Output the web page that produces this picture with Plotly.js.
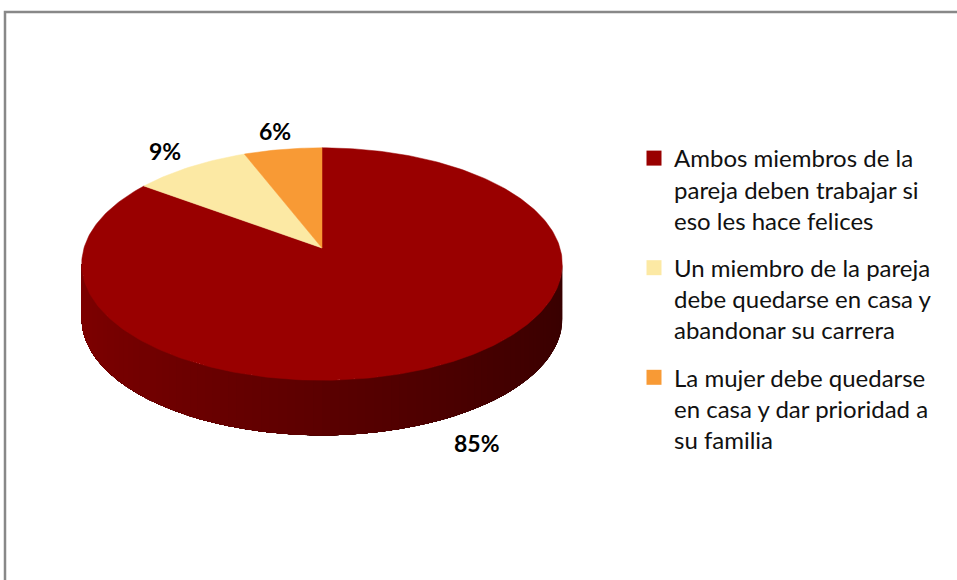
<!DOCTYPE html>
<html>
<head>
<meta charset="utf-8">
<script src="https://cdn.plot.ly/plotly-3.0.1.min.js"></script>
<style>html,body{margin:0;padding:0;background:#fff;}#chart{width:957px;height:580px;}</style>
</head>
<body>
<div id="chart"></div>
<script>
// ---- data ----
const categories = [
  "Ambos miembros de la<br>pareja deben trabajar si<br>eso les hace felices",
  "Un miembro de la pareja<br>debe quedarse en casa y<br>abandonar su carrera",
  "La mujer debe quedarse<br>en casa y dar prioridad a<br>su familia"
];
const values = [85, 9, 6];
const colors = ["#990000", "#FCE9A4", "#F89A35"];

// ---- 3D pie geometry (pixel space) ----
const CX = 322, CY = 248, A = 238, B = 114, K = -0.138, D = 55;
const deg = Math.PI / 180;
function proj(theta, r) {
  const c = Math.cos(theta) * r, sd = -Math.sin(theta) * r;
  const w = 1 + K * sd;
  return [CX + A * c / w, CY + B * sd / w];
}
const total = values.reduce((a, b) => a + b, 0);
const traces = [];

// slice angle ranges (clockwise from 12 o'clock)
const slices = [];
let start = 90;
values.forEach((v, i) => {
  const sweep = v / total * 360;
  slices.push({i: i, a0: start, a1: start - sweep});
  start -= sweep;
});
function sliceAt(thetaDeg) {
  for (const s of slices) {
    let t = thetaDeg;
    while (t > s.a0) t -= 360;
    while (t <= s.a0 - 360) t += 360;
    if (t <= s.a0 && t >= s.a1) return s.i;
  }
  return 0;
}
function shade(hex, f) {
  const n = parseInt(hex.slice(1), 16);
  const r = Math.round(((n >> 16) & 255) * f), g = Math.round(((n >> 8) & 255) * f), b = Math.round((n & 255) * f);
  return "rgb(" + r + "," + g + "," + b + ")";
}

// side wall (front visible part): painted right-to-left, each piece spans from the left edge
const tL = 180 - Math.asin(K) / deg, tR = 360 + Math.asin(K) / deg;
const N = 90;
for (let k = N - 1; k >= 0; k--) {
  const ta = tL + (tR - tL) * k / N, tb = tL + (tR - tL) * (k + 1) / N;
  const steps = Math.max(2, k + 1);
  const xs = [], ys = [];
  for (let j = 0; j <= steps; j++) {
    const p = proj((tL + (tb - tL) * j / steps) * deg, 1);
    xs.push(p[0]); ys.push(p[1]);
  }
  for (let j = steps; j >= 0; j--) {
    const p = proj((tL + (tb - tL) * j / steps) * deg, 1);
    xs.push(p[0]); ys.push(p[1] + D);
  }
  const mid = (ta + tb) / 2;
  const xpos = (Math.cos(mid * deg) + 1) / 2; // 0 left .. 1 right
  const col = shade(colors[sliceAt(mid)], 0.82 - 0.45 * xpos);
  traces.push({type: "scatter", mode: "lines", x: xs, y: ys, fill: "toself",
    fillcolor: col, line: {width: 0}, hoverinfo: "skip", showlegend: false});
}

// top faces
slices.forEach(s => {
  const xs = [CX], ys = [CY];
  const steps = Math.max(4, Math.ceil(s.a0 - s.a1));
  for (let j = 0; j <= steps; j++) {
    const p = proj((s.a0 + (s.a1 - s.a0) * j / steps) * deg, 1);
    xs.push(p[0]); ys.push(p[1]);
  }
  xs.push(CX); ys.push(CY);
  traces.push({type: "scatter", mode: "lines", x: xs, y: ys, fill: "toself",
    fillcolor: colors[s.i], line: {color: colors[s.i], width: 0.5}, hoverinfo: "skip", showlegend: false});
});

// legend entries
categories.forEach((c, i) => {
  traces.push({type: "scatter", mode: "markers", x: [null], y: [null], name: c,
    legendgroup: "g" + i, marker: {symbol: "square", size: 15, color: colors[i]}, showlegend: true});
});

// percentage labels
const annotations = slices.map(s => {
  const mid = (s.a0 + s.a1) / 2 * deg;
  const p = proj(mid, 1.22);
  const sd = -Math.sin(mid);
  return {x: p[0], y: p[1] + D * Math.max(0, sd), xref: "x", yref: "y",
    text: Math.round(values[s.i] / total * 100) + "%", showarrow: false,
    font: {family: "Lato, sans-serif", size: 23, color: "#000", weight: "bold"},
    xanchor: "center", yanchor: "middle"};
});

const layout = {
  width: 957, height: 580,
  margin: {l: 0, r: 0, t: 0, b: 0},
  paper_bgcolor: "#fff", plot_bgcolor: "#fff",
  xaxis: {range: [0, 957], visible: false, fixedrange: true},
  yaxis: {range: [580, 0], visible: false, fixedrange: true},
  showlegend: true,
  legend: {x: 634 / 957, y: 1 - 136 / 580, xanchor: "left", yanchor: "top",
    font: {family: "Lato, sans-serif", size: 24, color: "#111"}, valign: "top",
    tracegroupgap: 13, bgcolor: "rgba(0,0,0,0)"},
  annotations: annotations,
  shapes: [{type: "rect", xref: "paper", yref: "paper", x0: 5 / 957, x1: 1.02, y0: -0.02, y1: 1 - 12 / 580,
    line: {color: "#888888", width: 2.5}, fillcolor: "rgba(0,0,0,0)"}]
};
Plotly.newPlot("chart", traces, layout, {staticPlot: true, displayModeBar: false});
</script>
</body>
</html>
